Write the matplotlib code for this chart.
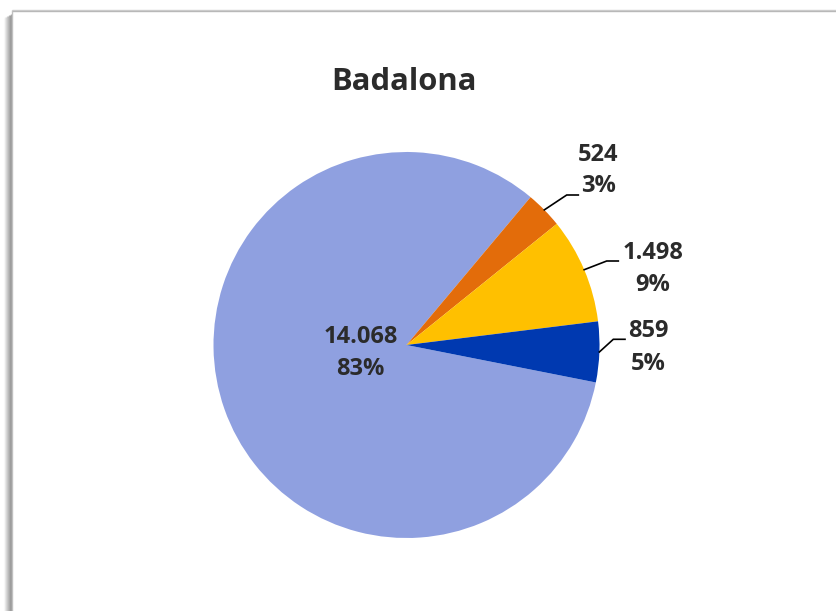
import matplotlib
matplotlib.use("Agg")
import matplotlib.pyplot as plt
import numpy as np

# ---- data ----
title = "Badalona"
categories = ["A", "B", "C", "D"]
values = [14068, 524, 1498, 859]
colors = ["#8FA0E0", "#E36C0A", "#FFC000", "#0039B0"]

# ---- layout (pixels, y measured from top) ----
W, H = 837, 611
cx, cy, R = 406.5, 345, 193
orange_start = 50.0
# label centers (value line, pct line) and leader elbows
label_pos = [(360.5, 337.5, 369), (598.5, 155, 186), (653, 253, 285.5), (648.5, 331.5, 363.5)]
elbows = [None, ((566.7, 195), (578.3, 195)), ((606.7, 261), (618.3, 261)), ((613.3, 339.3), (625, 339.3))]

plt.rcParams['font.family'] = ['Open Sans', 'DejaVu Sans']
txt_color = "#2b2b2b"

fig = plt.figure(figsize=(W / 100, H / 100), dpi=100)
ax = fig.add_axes([0, 0, 1, 1])

total = sum(values)
start = orange_start + 360.0 * values[0] / total
wedges, _ = ax.pie(values, colors=colors, startangle=start, counterclock=False,
                   center=(cx, H - cy), radius=R,
                   wedgeprops=dict(linewidth=0))
ax.set_xlim(0, W)
ax.set_ylim(0, H)
ax.set_aspect('equal')
ax.axis('off')

def fmt_thousands(v):
    return f"{v:,}".replace(",", ".")

for i, (w, v) in enumerate(zip(wedges, values)):
    pct = f"{round(100 * v / total):.0f}%"
    lx, ly1, ly2 = label_pos[i]
    ax.text(lx, H - ly1, fmt_thousands(v), ha='center', va='center', fontsize=17,
            fontweight='bold', color=txt_color)
    ax.text(lx, H - ly2, pct, ha='center', va='center', fontsize=17,
            fontweight='bold', color=txt_color)
    if elbows[i] is not None:
        mid = np.deg2rad((w.theta1 + w.theta2) / 2)
        sx = cx + R * np.cos(mid)
        sy = (H - cy) + R * np.sin(mid)
        (ex, ey), (fx, fy) = elbows[i]
        ax.plot([sx, ex, fx], [sy, H - ey, H - fy], color='black', lw=1.2,
                solid_joinstyle='miter')

ax.text(404, H - 82, title, ha='center', va='center', fontsize=22.3,
        fontweight='bold', color=txt_color)

# ---- frame with shadow ----
for k, a in enumerate(np.linspace(0.35, 0.02, 8)):
    ax.plot([11 - k, 11 - k], [0, H - 14 - k * 0.5], color='black', alpha=a, lw=1.0,
            solid_capstyle='butt')
ax.plot([12, W], [H - 9.5, H - 9.5], color='#d0d0d0', lw=1.0, solid_capstyle='butt')
ax.plot([12, W], [H - 10.5, H - 10.5], color='#b8b8b8', lw=1.0, solid_capstyle='butt')
ax.plot([12, 12], [0, H - 10], color='#c0c0c0', lw=1.0, solid_capstyle='butt')

fig.savefig("out.png", dpi=100, facecolor='white')
